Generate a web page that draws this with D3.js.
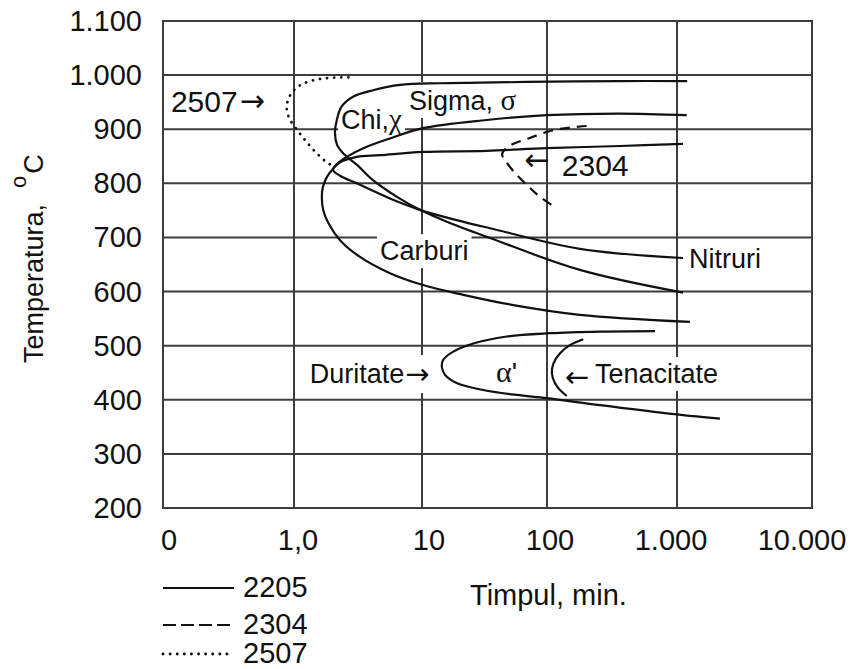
<!DOCTYPE html>
<html>
<head>
<meta charset="utf-8">
<script src="https://cdn.jsdelivr.net/npm/d3@7"></script>
<style>
  body { margin: 0; background: #fff; }
  svg { display: block; font-family: "Liberation Sans", Arial, sans-serif; }
</style>
</head>
<body>
<script>
var width = 854, height = 669

// axis ticks as printed on the figure
var xTicks = [0.1, 1, 10, 100, 1000, 10000]
var xTickLabels = ['0', '1,0', '10', '100', '1.000', '10.000']
var yTicks = [200, 300, 400, 500, 600, 700, 800, 900, 1000, 1100]
var yTickLabels = ['200', '300', '400', '500', '600', '700', '800', '900', '1.000', '1.100']

var grades = ['2205', '2304', '2507']

// 2205 - time (min) / temperature (C)
var chiTime = [1190, 364, 105, 29.1, 13.9, 6.73, 4.14, 2.89, 2.36, 2.16, 2.09, 2.17, 2.41, 3.11, 4.14, 6.38, 9.64, 15.8, 35.0, 179, 1108]
var chiTemp = [989, 989, 988, 986, 985, 982, 972, 960, 942, 917, 893, 871, 856, 834, 806, 775, 751, 729, 699, 640, 598]

var sigmaTime = [1180, 364, 99.5, 32.9, 10.2, 5.62, 3.48, 2.58, 2.17, 2.02, 2.29, 3.09, 5.62, 9.64, 18.9, 35.0, 179, 1108]
var sigmaTemp = [926, 929, 926, 917, 902, 883, 865, 849, 836, 825, 814, 800, 772, 751, 732, 717, 679, 662]

var carbTime = [1108, 364, 99.5, 32.9, 10.2, 4.70, 3.09, 2.29, 2.02, 1.81, 1.68, 1.65, 1.69, 1.85, 2.29, 3.28, 5.62, 10.2, 21.4, 53.8, 179, 1248]
var carbTemp = [873, 869, 865, 860, 858, 852, 849, 839, 827, 812, 793, 775, 751, 727, 695, 664, 634, 612, 594, 575, 557, 544]

var alphaTime = [677, 256, 105, 47.6, 25.7, 17.8, 14.8, 14.4, 15.3, 18.9, 30.9, 57.2, 99.5, 256, 833, 2082]
var alphaTemp = [527, 526, 523, 517, 504, 489, 474, 461, 446, 431, 418, 409, 403, 390, 375, 365]

var toughTime = [190, 150, 126, 112, 109, 115, 126, 142]
var toughTemp = [512, 501, 486, 467, 449, 431, 418, 407]

// 2304
var lean2304Time = [202, 115, 70.9, 49.0, 43.7, 46.1, 55.5, 70.5, 87.9, 119]
var lean2304Temp = [906, 899, 883, 868, 854, 843, 819, 795, 775, 754]

// 2507
var super2507Time = [2.66, 1.60, 1.11, 0.932, 0.880, 0.916, 1.08, 1.26, 1.50, 1.80, 2.02]
var super2507Temp = [996, 993, 981, 962, 942, 921, 896, 876, 856, 839, 832]

// annotations: text, time, temperature (baseline of the text)
var notes = [
  ['2507', 0.115, 932],
  ['\u2192', 0.385, 933],
  ['Chi,\u03c7', 2.33, 899.5],
  ['Sigma, \u03c3', 7.91, 935.5],
  ['\u2190', 66, 824],
  ['2304', 130, 813.6],
  ['Carburi', 4.70, 658],
  ['Nitruri', 1227, 643.5],
  ['Duritate', 1.33, 431],
  ['\u2192', 7.4, 429],
  ['\u03b1\'', 39.1, 433],
  ['\u2190', 137, 423],
  ['Tenacitate', 234, 431]
]

var svg = d3.select('body').append('svg')
  .attr('width', width)
  .attr('height', height)

var x = d3.scaleLog().domain(xTicks).range([163, 294, 422, 547, 677, 812])
var y = d3.scaleLinear().domain([200, 1100]).range([508, 21])

var gridColor = '#3c3c3c'
var ink = '#111'

// grid (also makes the frame)
var grid = svg.append('g')
grid.selectAll('line.v').data(xTicks).enter().append('line')
  .attr('class', 'v')
  .attr('x1', function(d) { return x(d) }).attr('x2', function(d) { return x(d) })
  .attr('y1', y(200)).attr('y2', y(1100))
  .attr('stroke', gridColor).attr('stroke-width', 2)
grid.selectAll('line.h').data(yTicks).enter().append('line')
  .attr('class', 'h')
  .attr('y1', function(d) { return y(d) }).attr('y2', function(d) { return y(d) })
  .attr('x1', x(0.1) - 1).attr('x2', x(10000) + 1)
  .attr('stroke', gridColor).attr('stroke-width', 2)

// tick labels
var tickShift = [6, 4, 7, 3, -6, -10]
svg.selectAll('text.xt').data(xTicks).enter().append('text')
  .attr('class', 'xt')
  .attr('x', function(d, i) { return x(d) + tickShift[i] })
  .attr('y', y(200) + 42)
  .attr('text-anchor', 'middle')
  .attr('font-size', 29)
  .attr('fill', ink)
  .text(function(d, i) { return xTickLabels[i] })

svg.selectAll('text.yt').data(yTicks).enter().append('text')
  .attr('class', 'yt')
  .attr('x', 142)
  .attr('y', function(d) { return y(d) + 10 })
  .attr('text-anchor', 'end')
  .attr('font-size', 29)
  .attr('fill', ink)
  .text(function(d, i) { return yTickLabels[i] })

// axis titles
svg.append('text')
  .attr('x', 470).attr('y', 605)
  .attr('font-size', 29).attr('fill', ink)
  .text('Timpul, min.')

var yTitle = svg.append('text')
  .attr('transform', 'translate(43,363) rotate(-90)')
  .attr('font-size', 27).attr('fill', ink)
yTitle.append('tspan').text('Temperatura,')
yTitle.append('tspan').attr('dx', 16).attr('dy', -17).attr('font-size', 22).text('o')
yTitle.append('tspan').attr('dx', 2).attr('dy', 17).text('C')

var bgLayer = svg.append('g')
var curveLayer = svg.append('g')
var noteLayer = svg.append('g')

var line = d3.line()
  .x(function(d) { return x(d[0]) })
  .y(function(d) { return y(d[1]) })
  .curve(d3.curveCatmullRom.alpha(0.5))

var dash = { '2205': null, '2304': '10,7', '2507': '0.1,7' }
var width2 = { '2205': 2.2, '2304': 2.2, '2507': 2.8 }

var curves = [
  ['2205', chiTime, chiTemp],
  ['2205', sigmaTime, sigmaTemp],
  ['2205', carbTime, carbTemp],
  ['2205', alphaTime, alphaTemp],
  ['2205', toughTime, toughTemp],
  ['2304', lean2304Time, lean2304Temp],
  ['2507', super2507Time, super2507Temp]
]

curveLayer.selectAll('path').data(curves).enter().append('path')
  .attr('d', function(c) { return line(d3.zip(c[1], c[2])) })
  .attr('fill', 'none')
  .attr('stroke', ink)
  .attr('stroke-width', function(c) { return width2[c[0]] })
  .attr('stroke-linecap', function(c) { return c[0] === '2507' ? 'round' : 'butt' })
  .attr('stroke-dasharray', function(c) { return dash[c[0]] })

// which notes sit on a white patch, and their font size
var noteBg = [false, false, true, true, false, false, true, true, true, true, false, true, true]
var noteSize = [30, 30, 27, 27, 30, 30, 27, 27, 27, 29, 28, 29, 27]

notes.forEach(function(n, i) {
  var t = noteLayer.append('text')
    .attr('x', x(n[1]))
    .attr('y', y(n[2]))
    .attr('font-size', noteSize[i])
    .attr('fill', ink)
  if (/[\u2190\u2192]/.test(n[0])) t.attr('font-family', '"DejaVu Sans", sans-serif')
  n[0].split(/([\u03b1-\u03c9])/).forEach(function(part) {
    if (!part) return
    var s = t.append('tspan').text(part)
    if (/[\u03b1-\u03c9]/.test(part)) s.attr('font-family', '"Liberation Serif", "DejaVu Serif", serif').attr('font-size', noteSize[i] + 2)
  })
  if (noteBg[i]) {
    var b = t.node().getBBox()
    bgLayer.append('rect')
      .attr('x', b.x - 3).attr('y', b.y - 2)
      .attr('width', b.width + 6).attr('height', b.height + 4)
      .attr('fill', '#fff')
  }
})

// legend
var legend = svg.append('g')
var legendY = [588, 625, 654]
legend.selectAll('line').data(grades).enter().append('line')
  .attr('x1', 163).attr('x2', 234)
  .attr('y1', function(d, i) { return legendY[i] })
  .attr('y2', function(d, i) { return legendY[i] })
  .attr('stroke', ink)
  .attr('stroke-width', function(d) { return width2[d] })
  .attr('stroke-linecap', function(d) { return d === '2507' ? 'round' : 'butt' })
  .attr('stroke-dasharray', function(d) { return d === '2304' ? '13,5' : dash[d] })
legend.selectAll('text').data(grades).enter().append('text')
  .attr('x', 243)
  .attr('y', function(d, i) { return legendY[i] + 9 })
  .attr('font-size', 29)
  .attr('fill', ink)
  .text(function(d) { return d })
</script>
</body>
</html>
